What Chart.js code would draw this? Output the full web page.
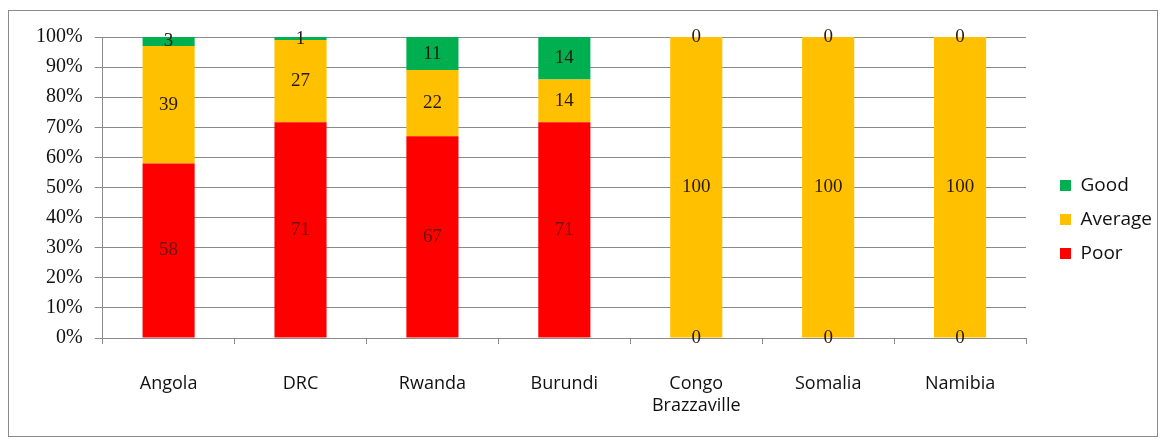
<!DOCTYPE html>
<html>
<head>
<meta charset="utf-8">
<script src="https://cdn.jsdelivr.net/npm/chart.js@4"></script>
<style>
  body { margin: 0; background: #fff; overflow: hidden; }
  #frame {
    position: absolute; left: 8px; top: 10px;
    width: 1148px; height: 425px;
    border: 1px solid #8a8a8a; background: #fff;
  }
  #wrap { position: absolute; left: 0; top: -42px; width: 1153px; height: 461px; }
</style>
</head>
<body>
<div id="frame"><div id="wrap"><canvas id="ratingChart"></canvas></div></div>
<script>
var countries = ["Angola", "DRC", "Rwanda", "Burundi", ["Congo", "Brazzaville"], "Somalia", "Namibia"];
var poor = [58, 71, 67, 71, 0, 0, 0];
var average = [39, 27, 22, 14, 100, 100, 100];
var good = [3, 1, 11, 14, 0, 0, 0];
var yTicks = [0, 10, 20, 30, 40, 50, 60, 70, 80, 90, 100];

// 100% stacked: each column is scaled to its own total
function toPercent(values) {
  return values.map(function (v, i) {
    var total = poor[i] + average[i] + good[i];
    return total ? v / total * 100 : 0;
  });
}

const valueLabels = {
  id: 'valueLabels',
  afterDatasetsDraw: function (chart) {
    const ctx = chart.ctx;
    ctx.save();
    ctx.textAlign = 'center';
    ctx.textBaseline = 'middle';
    chart.data.datasets.forEach(function (ds, i) {
      const meta = chart.getDatasetMeta(i);
      meta.data.forEach(function (bar, j) {
        const p = bar.getProps(['x', 'y', 'base'], true);
        const raw = ds.raw[j];
        ctx.font = '19px "Liberation Serif"';
        ctx.fillStyle = (ds.label === 'Poor' && raw > 0) ? '#6e1212' : '#2a1a12';
        ctx.fillText(String(raw), p.x, (p.y + p.base) / 2);
      });
    });
    ctx.restore();
  }
};

var ctx = document.getElementById("ratingChart").getContext("2d");

var ratingChart = new Chart(ctx, {
  type: 'bar',
  data: {
    labels: countries,
    datasets: [
      { label: 'Poor', raw: poor, data: toPercent(poor), backgroundColor: '#FF0000' },
      { label: 'Average', raw: average, data: toPercent(average), backgroundColor: '#FFC000' },
      { label: 'Good', raw: good, data: toPercent(good), backgroundColor: '#00B050' }
    ]
  },
  options: {
    responsive: true,
    maintainAspectRatio: false,
    animation: false,
    datasets: {
      bar: { categoryPercentage: 1, barPercentage: 0.395 }
    },
    layout: { padding: { left: 15, top: 68, right: 0, bottom: 28 } },
    plugins: {
      tooltip: { enabled: false },
      legend: {
        position: 'right',
        reverse: true,
        labels: {
          boxWidth: 11,
          boxHeight: 11,
          padding: 15,
          color: '#111',
          font: { family: '"Open Sans"', size: 19 }
        }
      }
    },
    scales: {
      x: {
        stacked: true,
        // labels spill into the bottom padding so the legend centres higher
        afterFit: function (axis) {
          axis.height = 64;
          axis._computeLabelArea = function () { return undefined; };
        },
        grid: {
          offset: true,
          drawOnChartArea: false,
          tickLength: 6,
          color: '#8a8a8a'
        },
        border: { color: '#8a8a8a' },
        ticks: {
          padding: 29,
          color: '#111',
          font: { family: '"Open Sans"', size: 18 }
        }
      },
      y: {
        stacked: true,
        min: 0,
        max: 100,
        afterBuildTicks: function (axis) {
          axis.ticks = yTicks.map(function (v) { return { value: v }; });
        },
        grid: { color: '#8a8a8a', tickLength: 8 },
        border: { color: '#8a8a8a' },
        ticks: {
          padding: 12,
          color: '#111',
          font: { family: '"Liberation Serif"', size: 20 },
          callback: function (v) { return v + '%'; }
        }
      },
      // empty strip between plot and legend
      gap: {
        position: 'right',
        min: 0,
        max: 100,
        grid: { display: false },
        border: { display: false },
        ticks: { display: false },
        afterFit: function (axis) { axis.width = 19; }
      }
    }
  },
  plugins: [valueLabels]
});
</script>
</body>
</html>
